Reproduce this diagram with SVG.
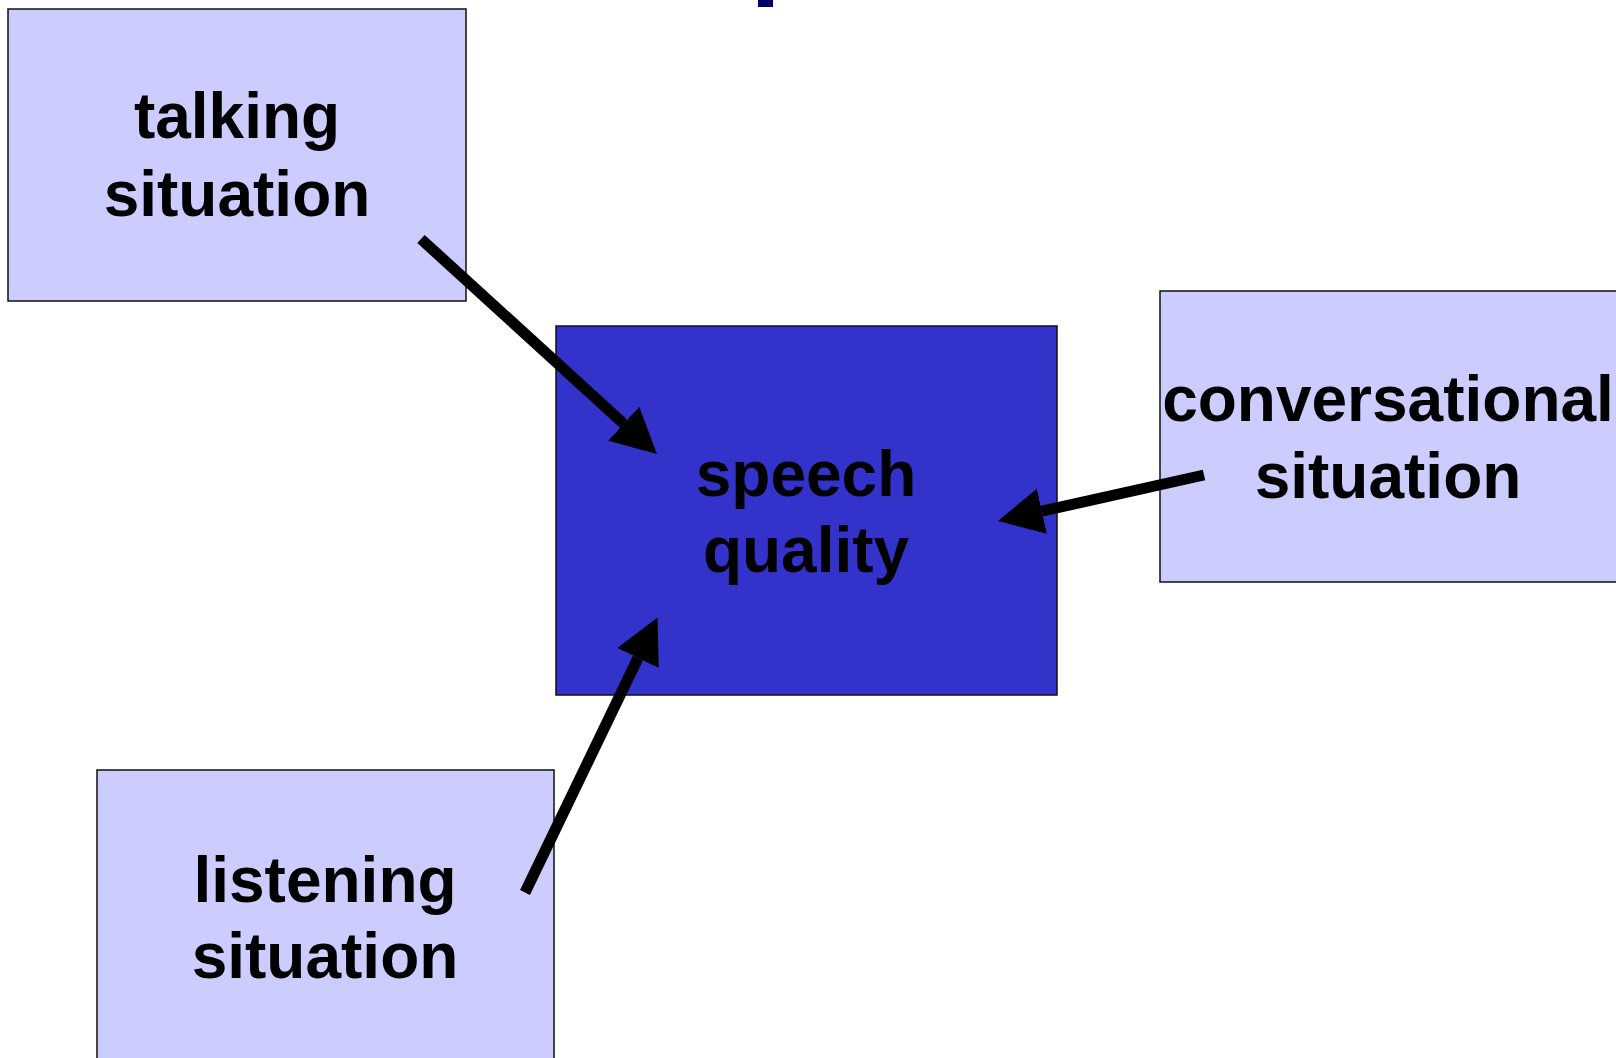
<svg xmlns="http://www.w3.org/2000/svg" width="1616" height="1058" viewBox="0 0 1616 1058">
  <style>
    .box { fill: #CCCCFF; stroke: #111111; stroke-width: 1.5; }
    .core { fill: #3333CC; stroke: #111111; stroke-width: 1.5; }
    .label { font-family: "Liberation Sans", Arial, sans-serif; font-weight: bold; font-size: 64px; fill: #000000; text-anchor: middle; }
    .link { stroke: #000000; stroke-width: 11; fill: none; stroke-linecap: butt; marker-end: url(#head); }
  </style>
  <defs>
    <marker id="head" viewBox="0 0 45 46" refX="0" refY="23" markerWidth="45" markerHeight="46" markerUnits="userSpaceOnUse" orient="auto">
      <path d="M0,0 L45,23 L0,46 Z" fill="#000000"/>
    </marker>
  </defs>

  <rect width="1616" height="1058" fill="#FFFFFF"/>

  <!-- edge of the heading above the frame -->
  <rect x="758" y="0" width="15" height="7" fill="#000066"/>

  <g id="talking">
    <rect class="box" x="8" y="9" width="458" height="292"/>
    <text class="label" x="237" y="138">talking</text>
    <text class="label" x="237" y="216">situation</text>
  </g>

  <g id="speech-quality">
    <rect class="core" x="556" y="326" width="501" height="369"/>
    <text class="label" x="806" y="496">speech</text>
    <text class="label" x="806" y="572">quality</text>
  </g>

  <g id="conversational">
    <rect class="box" x="1160" y="291" width="470" height="291"/>
    <text class="label" x="1388" y="421">conversational</text>
    <text class="label" x="1388" y="498">situation</text>
  </g>

  <g id="listening">
    <rect class="box" x="97" y="770" width="457" height="300"/>
    <text class="label" x="325" y="902">listening</text>
    <text class="label" x="325" y="978">situation</text>
  </g>

  <g id="connectors">
    <line class="link" x1="421" y1="239" x2="623.7" y2="423.7"/>
    <line class="link" x1="1204" y1="475" x2="1041.9" y2="511.2"/>
    <line class="link" x1="525" y1="892.5" x2="638" y2="658"/>
  </g>
</svg>
